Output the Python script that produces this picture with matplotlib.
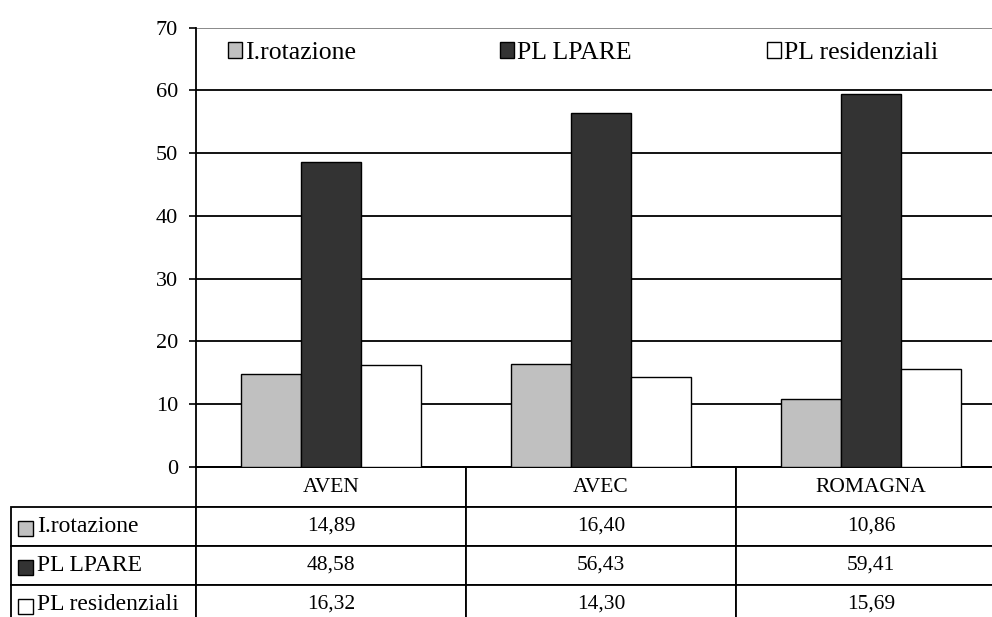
import numpy as np
import matplotlib
matplotlib.use('Agg')
import matplotlib.pyplot as plt
from matplotlib.legend import Legend
from matplotlib.table import Table

categories = ['AVEN', 'AVEC', 'ROMAGNA']
series = ['I.rotazione', 'PL LPARE', 'PL residenziali']
rotazione = [14.89, 16.40, 10.86]
pl_lpare = [48.58, 56.43, 59.41]
pl_residenziali = [16.32, 14.30, 15.69]
values = [rotazione, pl_lpare, pl_residenziali]
colors = ['#c0c0c0', '#333333', '#ffffff']

plt.rcParams['font.family'] = ['Liberation Serif', 'DejaVu Serif']
plt.rcParams['font.size'] = 16

W, H = 992, 617
fig = plt.figure(figsize=(W / 100, H / 100), dpi=100)

# plot area in pixels (left, top, right, bottom); runs past the right edge
L, T, R, B = 196, 27.7, 1006, 467
ax = fig.add_axes([L / W, 1 - B / H, (R - L) / W, (B - T) / H])


def ax_x(px):
    return (px - L) / (R - L)


def ax_y(py):
    return (B - py) / (B - T)


x = np.arange(len(categories))
w = 0.2222
bars = []
for i, (vals, c, name) in enumerate(zip(values, colors, series)):
    bars.append(ax.bar(x + (i - 1) * w, vals, w, color=c, edgecolor='black',
                       linewidth=1.0, label=name, zorder=3))

ax.set_xlim(-0.5, 2.5)
ax.set_ylim(0, 70)
ax.set_yticks(range(0, 80, 10))
ax.set_xticks([])
ax.yaxis.grid(True, color='black', linewidth=1.3)
ax.get_ygridlines()[-1].set_color('#808080')
ax.set_axisbelow(True)
ax.tick_params(axis='y', length=5, width=1.2, pad=8, direction='out',
               labelsize=16)
for s in ['top', 'right']:
    ax.spines[s].set_visible(False)
for s in ['left', 'bottom']:
    ax.spines[s].set_linewidth(1.3)

# legend entries spread across the top band, one box per series
for bc, name, left in zip(bars, series, [228, 500, 767]):
    leg = Legend(ax, [bc], [name], loc='center left',
                 bbox_to_anchor=(ax_x(left), ax_y(53)),
                 frameon=False, fontsize=18.5, handlelength=0.55,
                 handleheight=0.55, handletextpad=0.12,
                 borderaxespad=0, borderpad=0)
    ax.add_artist(leg)

# data table under the plot; sizes in pixels converted to axes units
label_w, col_w, head_h, row_h = 185, 270, 40, 39
sx, sy = 1 / (R - L), 1 / (B - T)
tab_h = head_h + 3 * row_h
tb = Table(ax, bbox=[0, ax_y(B + tab_h), 1, tab_h * sy])
for j, cat in enumerate(categories):
    tb.add_cell(0, j, col_w * sx, head_h * sy, text=cat, loc='center')
for i, (name, vals) in enumerate(zip(series, values)):
    cell = tb.add_cell(i + 1, -1, label_w * sx, row_h * sy, text=name,
                       loc='left')
    cell.PAD = 26 / label_w
    cell.get_text().set_fontsize(17)
    for j, v in enumerate(vals):
        tb.add_cell(i + 1, j, col_w * sx, row_h * sy,
                    text=f'{v:.2f}'.replace('.', ','), loc='center')
tb.auto_set_font_size(False)
for (r, c), cell in tb.get_celld().items():
    cell.set_linewidth(1.3)
    cell.set_edgecolor('black')
    if c >= 0:
        cell.get_text().set_fontsize(15.5)
ax.add_table(tb)

for i, c in enumerate(colors):
    yc = ax_y(B + head_h + row_h * (i + 0.5) + 1.5)
    ax.plot(ax_x(24.5), yc, marker='s', ms=10.8, mfc=c, mec='black', mew=1,
            transform=ax.transAxes, clip_on=False)

fig.savefig('out.png', dpi=100)
